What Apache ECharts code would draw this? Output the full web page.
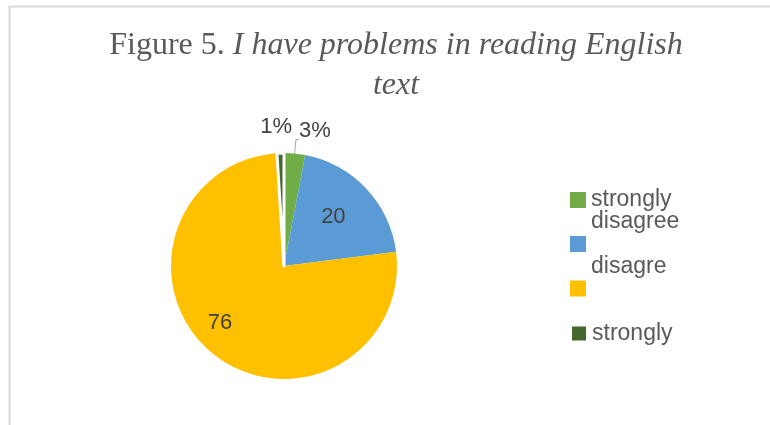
<!DOCTYPE html>
<html><head><meta charset="utf-8">
<script src="https://cdn.jsdelivr.net/npm/echarts@6/dist/echarts.min.js"></script>
<style>html,body{margin:0;padding:0;background:#fff}#c{width:770px;height:425px}</style>
</head><body><div id="c"></div>
<script>
// ---- data ----
const categories = ['strongly disagree', 'disagree', 'agree', 'strongly agree'];
const values = [3, 20, 76, 1];
const colors = ['#70AD47', '#5B9BD5', '#FFC000', '#43682B'];
const labelKinds = ['percent', 'value', 'value', 'percent'];
const legendTexts = ['\nstrongly\ndisagree', ' ', 'disagre\n\n', 'strongly'];
const titleNormal = 'Figure 5. ';
const titleItalic1 = 'I have problems in reading English';
const titleItalic2 = 'text';

// ---- styling helpers (not data) ----
const legendIconCenters = [199.5, 243.5, 288, 333];
const legendLines = [3, 1, 3, 1];
const legendLH = 22;
const labelNudges = [{dx: 0, dy: -9}, {dx: 6, dy: -8}, {dx: -26, dy: 11}, {dx: 15, dy: -12}];
const sliceBorders = [0, 0, 0, 3];

const chart = echarts.init(document.getElementById('c'), null, {renderer: 'canvas'});

const pieData = categories.map((name, i) => ({
  name: name,
  value: values[i],
  itemStyle: {color: colors[i], borderColor: '#ffffff', borderWidth: sliceBorders[i]},
  label: labelKinds[i] === 'percent'
    ? {position: 'outside', formatter: '{d}%'}
    : {position: 'inside', formatter: '{c}'},
  labelLine: {show: i === 0}
}));

const legends = categories.map((name, i) => ({
  orient: 'vertical',
  left: 570,
  top: legendIconCenters[i] - (legendLines[i] * legendLH) / 2,
  padding: 0,
  icon: 'rect',
  itemWidth: 16,
  itemHeight: 16,
  selectedMode: false,
  data: [name],
  formatter: () => legendTexts[i],
  textStyle: {
    fontFamily: 'Liberation Sans, Arial, sans-serif',
    fontSize: 23,
    color: '#595959',
    lineHeight: legendLH,
    padding: [0, 0, 0, 0]
  }
}));

const serif = 'Liberation Serif, Times New Roman, serif';

chart.setOption({
  animation: false,
  backgroundColor: '#ffffff',
  title: {
    left: 396,
    top: 26,
    padding: 0,
    textAlign: 'center',
    text: '{n|' + titleNormal + '}{i|' + titleItalic1 + '}\n{i|' + titleItalic2 + '}',
    textStyle: {
      fontWeight: 'normal',
      rich: {
        n: {fontFamily: serif, fontSize: 32, fontWeight: 'normal', color: '#595959', lineHeight: 40},
        i: {fontFamily: serif, fontSize: 32, fontWeight: 'normal', fontStyle: 'italic', color: '#595959', lineHeight: 40}
      }
    }
  },
  legend: legends,
  graphic: [{
    type: 'rect',
    left: 7, top: 4,
    shape: {width: 800, height: 500},
    style: {fill: 'none', stroke: '#D9D9D9', lineWidth: 2},
    silent: true
  }],
  series: [{
    type: 'pie',
    center: [284, 266],
    radius: 113,
    startAngle: 90,
    clockwise: true,
    avoidLabelOverlap: false,
    data: pieData,
    label: {
      show: true,
      fontFamily: 'Liberation Sans, Arial, sans-serif',
      fontSize: 22,
      color: '#404040',
      distanceToLabelLine: 0
    },
    labelLine: {
      length: 14,
      length2: 3,
      lineStyle: {color: '#A6A6A6', width: 1}
    },
    labelLayout: function (p) {
      return labelNudges[p.dataIndex];
    }
  }]
});
</script>
</body></html>
